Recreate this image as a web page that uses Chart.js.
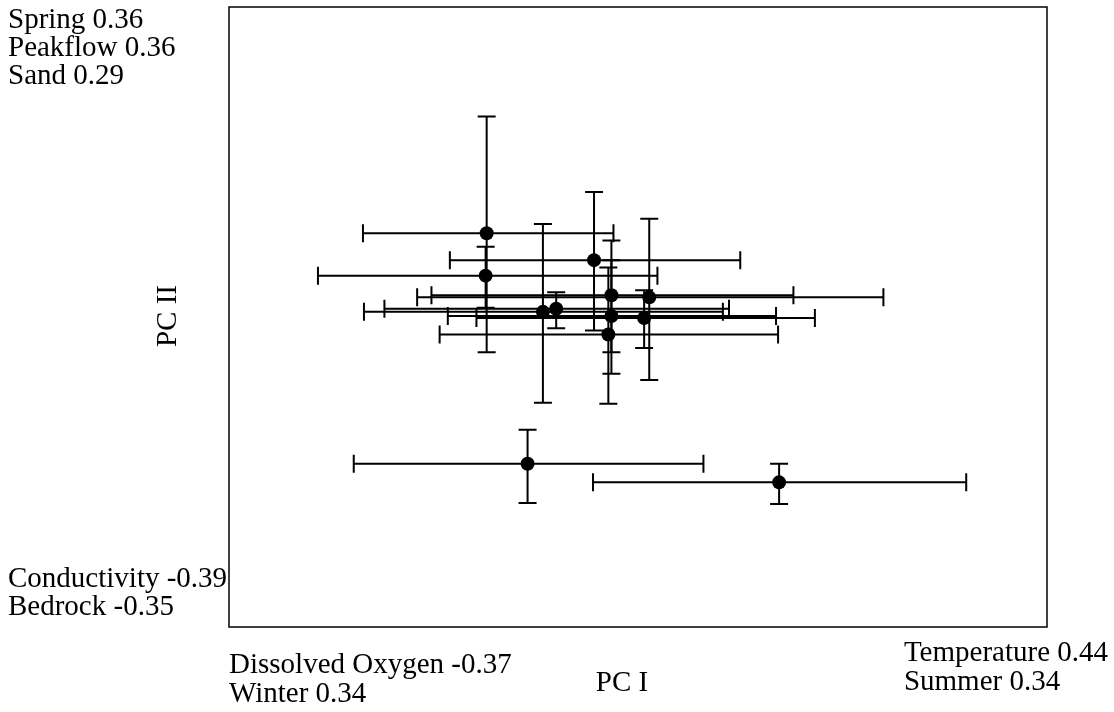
<!DOCTYPE html>
<html>
<head>
<meta charset="utf-8">
<title>PCA scores</title>
<script src="https://cdn.jsdelivr.net/npm/chart.js@4.4.0/dist/chart.umd.min.js"></script>
<style>
  body { margin: 0; background: #ffffff; }
  canvas { display: block; }
</style>
</head>
<body>
<canvas id="pcaChart" width="1114" height="712"></canvas>
<script>
// PC scores (mean) and their error ranges
const pcI = [-1.48, -1.49, -0.43, -0.93, -0.80, -0.26, 0.11, -0.26, 0.06, -0.29, -1.08, 1.38];
const pcILow = [-2.69, -3.13, -1.84, -2.68, -2.48, -2.02, -2.16, -1.86, -1.58, -1.94, -2.78, -0.44];
const pcIHigh = [-0.24, 0.19, 1.00, 0.83, 0.89, 1.52, 2.40, 1.35, 1.73, 1.37, 0.64, 3.21];
const pcII = [0.81, 0.40, 0.55, 0.05, 0.08, 0.21, 0.19, 0.01, -0.01, -0.17, -1.42, -1.60];
const pcIILow = [-0.34, 0.09, -0.13, -0.83, -0.11, -0.34, -0.61, -0.55, -0.30, -0.84, -1.80, -1.81];
const pcIIHigh = [1.94, 0.68, 1.21, 0.90, 0.24, 0.74, 0.95, 0.55, 0.26, 0.48, -1.09, -1.42];

// loadings written at the ends of each axis
const topLeftLabels = ["Spring 0.36", "Peakflow 0.36", "Sand 0.29"];
const bottomLeftLabels = ["Conductivity -0.39", "Bedrock -0.35"];
const xLowLabels = ["Dissolved Oxygen -0.37", "Winter 0.34"];
const xHighLabels = ["Temperature 0.44", "Summer 0.34"];
const xTitle = "PC I";
const yTitle = "PC II";

const FONT = '29px "Liberation Serif", "Times New Roman", serif';

const points = pcI.map((x, i) => ({ x: x, y: pcII[i] }));

// error bars behind the points
const errorBars = {
  id: "errorBars",
  beforeDatasetsDraw(chart) {
    const ctx = chart.ctx;
    const xs = chart.scales.x;
    const ys = chart.scales.y;
    const cap = 9;
    ctx.save();
    ctx.strokeStyle = "#000";
    ctx.lineWidth = 2;
    for (let i = 0; i < pcI.length; i++) {
      const px = xs.getPixelForValue(pcI[i]);
      const py = ys.getPixelForValue(pcII[i]);
      const x1 = xs.getPixelForValue(pcILow[i]);
      const x2 = xs.getPixelForValue(pcIHigh[i]);
      const y1 = ys.getPixelForValue(pcIIHigh[i]);
      const y2 = ys.getPixelForValue(pcIILow[i]);
      ctx.beginPath();
      // horizontal
      ctx.moveTo(x1, py); ctx.lineTo(x2, py);
      ctx.moveTo(x1, py - cap); ctx.lineTo(x1, py + cap);
      ctx.moveTo(x2, py - cap); ctx.lineTo(x2, py + cap);
      // vertical
      ctx.moveTo(px, y1); ctx.lineTo(px, y2);
      ctx.moveTo(px - cap, y1); ctx.lineTo(px + cap, y1);
      ctx.moveTo(px - cap, y2); ctx.lineTo(px + cap, y2);
      ctx.stroke();
    }
    ctx.restore();
  }
};

// frame and text
const frameAndText = {
  id: "frameAndText",
  afterDraw(chart) {
    const ctx = chart.ctx;
    const a = chart.chartArea;
    ctx.save();
    ctx.strokeStyle = "#000";
    ctx.lineWidth = 1.5;
    ctx.strokeRect(a.left, a.top, a.right - a.left, a.bottom - a.top);

    ctx.fillStyle = "#000";
    ctx.font = FONT;
    ctx.textBaseline = "alphabetic";
    ctx.textAlign = "left";
    topLeftLabels.forEach((t, i) => ctx.fillText(t, 8, 28 + i * 28));
    bottomLeftLabels.forEach((t, i) => ctx.fillText(t, 8, 587 + i * 28));
    xLowLabels.forEach((t, i) => ctx.fillText(t, a.left, 673 + i * 29));
    const w = Math.max(...xHighLabels.map((t) => ctx.measureText(t).width));
    xHighLabels.forEach((t, i) => ctx.fillText(t, 1108 - w, 661 + i * 29));

    ctx.textAlign = "center";
    ctx.fillText(xTitle, 622, 691);

    ctx.translate(168, 316);
    ctx.rotate(-Math.PI / 2);
    ctx.textBaseline = "middle";
    ctx.fillText(yTitle, 0, 0);
    ctx.restore();
  }
};

new Chart(document.getElementById("pcaChart").getContext("2d"), {
  type: "scatter",
  data: {
    datasets: [
      {
        label: "PC scores",
        data: points,
        backgroundColor: "#000",
        borderColor: "#000",
        borderWidth: 0,
        pointRadius: 7,
        pointHoverRadius: 7,
      },
    ],
  },
  options: {
    responsive: false,
    animation: false,
    devicePixelRatio: 1,
    layout: {
      padding: { left: 229, top: 5, right: 67, bottom: 85 },
    },
    scales: {
      x: { type: "linear", min: -4, max: 4, display: false },
      y: { type: "linear", min: -3, max: 3, display: false },
    },
    plugins: {
      legend: { display: false },
      tooltip: { enabled: false },
    },
  },
  plugins: [errorBars, frameAndText],
});
</script>
</body>
</html>
